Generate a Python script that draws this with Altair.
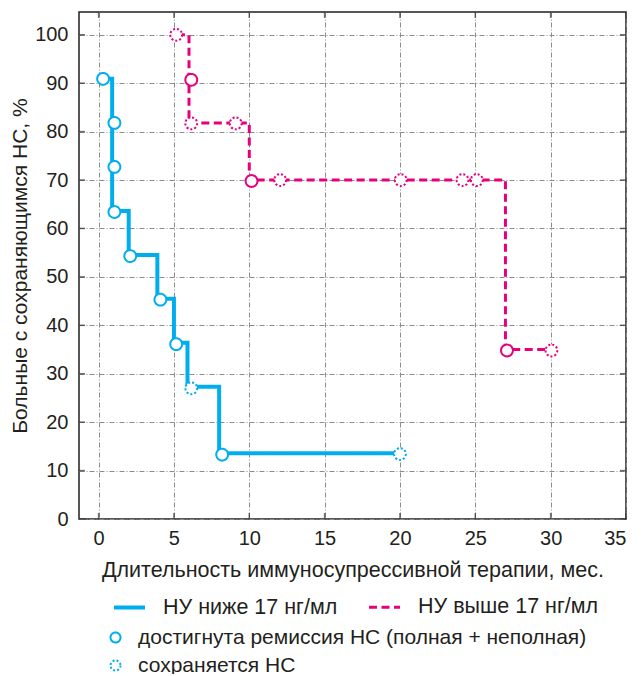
import altair as alt
import pandas as pd

# ---------------- data ----------------
SERIES = ["НУ ниже 17 нг/мл", "НУ выше 17 нг/мл"]
STATUS = ["достигнута ремиссия НС (полная + неполная)", "сохраняется НС"]
COLORS = ["#00AEEF", "#E6007E"]

# step-line vertices
BLUE_LINE_X = [0.3, 0.9, 0.9, 2.0, 2.0, 3.9, 3.9, 5.0, 5.0, 5.9, 5.9, 8.0, 8.0, 20.0]
BLUE_LINE_Y = [90.9, 90.9, 63.6, 63.6, 54.5, 54.5, 45.5, 45.5, 36.4, 36.4, 27.3, 27.3, 13.6, 13.6]
PINK_LINE_X = [5.2, 6.0, 6.0, 10.0, 10.0, 27.0, 27.0, 30.0]
PINK_LINE_Y = [100.0, 100.0, 81.8, 81.8, 70.0, 70.0, 35.0, 35.0]

# circles: remission reached
BLUE_REM_X = [0.3, 1.05, 1.05, 1.05, 2.1, 4.1, 5.15, 8.2]
BLUE_REM_Y = [90.9, 81.8, 72.7, 63.4, 54.3, 45.3, 36.1, 13.3]
PINK_REM_X = [6.15, 10.15, 27.1]
PINK_REM_Y = [90.7, 69.8, 34.8]
# circles: NS persists (censored)
BLUE_CEN_X = [6.15, 20.0]
BLUE_CEN_Y = [27.0, 13.4]
PINK_CEN_X = [5.15, 6.15, 9.1, 12.05, 20.05, 24.15, 25.1, 30.05]
PINK_CEN_Y = [100.0, 81.7, 81.7, 70.0, 70.0, 70.0, 70.0, 34.8]

X_TICKS = [0, 5, 10, 15, 20, 25, 30, 35]
Y_TICKS = [0, 10, 20, 30, 40, 50, 60, 70, 80, 90, 100]

X_TITLE = "Длительность иммуносупрессивной терапии, мес."
Y_TITLE = "Больные с сохраняющимся НС, %"

# ---------------- tables ----------------
line_df = pd.concat([
    pd.DataFrame({"x": BLUE_LINE_X, "y": BLUE_LINE_Y, "series": SERIES[0], "i": range(len(BLUE_LINE_X))}),
    pd.DataFrame({"x": PINK_LINE_X, "y": PINK_LINE_Y, "series": SERIES[1], "i": range(len(PINK_LINE_X))}),
])
blue_pts = pd.concat([
    pd.DataFrame({"x": BLUE_REM_X, "y": BLUE_REM_Y, "status": STATUS[0]}),
    pd.DataFrame({"x": BLUE_CEN_X, "y": BLUE_CEN_Y, "status": STATUS[1]}),
])
pink_pts = pd.concat([
    pd.DataFrame({"x": PINK_REM_X, "y": PINK_REM_Y, "status": STATUS[0]}),
    pd.DataFrame({"x": PINK_CEN_X, "y": PINK_CEN_Y, "status": STATUS[1]}),
])
xt_df = pd.DataFrame({"x": X_TICKS})
yt_df = pd.DataFrame({"y": Y_TICKS})

W, H = 547, 507
FONT = "Liberation Sans"
TXT = "#231f20"

xs = alt.Scale(domain=[-1.3, 35], nice=False, zero=False)
ys = alt.Scale(domain=[0, 104.7], nice=False, zero=False)

x_axis = alt.Axis(values=X_TICKS, title=X_TITLE, labelPadding=9, titlePadding=11, titleFontSize=21.5)
y_axis = alt.Axis(values=Y_TICKS, title=Y_TITLE, labelPadding=11, titlePadding=4, titleFontSize=21)

line_legend = alt.Legend(
    title=None, orient="none", legendX=33, legendY=578, columns=2, direction="horizontal",
    symbolType="stroke", symbolSize=961, symbolStrokeWidth=3.5,
    labelFont=FONT, labelFontSize=21.5, labelColor=TXT, labelOffset=16, labelLimit=0,
    columnPadding=25, padding=0,
)

lines = alt.Chart(line_df).mark_line(strokeCap="butt", strokeJoin="miter").encode(
    x=alt.X("x:Q", scale=xs, axis=x_axis),
    y=alt.Y("y:Q", scale=ys, axis=y_axis),
    order="i:Q",
    color=alt.Color("series:N", scale=alt.Scale(domain=SERIES, range=COLORS), legend=line_legend),
    strokeDash=alt.StrokeDash("series:N", scale=alt.Scale(domain=SERIES, range=[[1, 0], [8, 4.5]]), legend=line_legend),
    strokeWidth=alt.StrokeWidth("series:N", scale=alt.Scale(domain=SERIES, range=[4, 3]), legend=None),
)

status_dash = alt.Scale(domain=STATUS, range=[[1, 0], [2, 2]])

pts_blue = alt.Chart(blue_pts).mark_point(
    shape="circle", filled=False, fill="white", size=140, opacity=1, color=COLORS[0], strokeWidth=2
).encode(
    x=alt.X("x:Q", scale=xs, axis=x_axis),
    y=alt.Y("y:Q", scale=ys, axis=y_axis),
    strokeDash=alt.StrokeDash(
        "status:N", scale=status_dash,
        legend=alt.Legend(
            title=None, orient="none", legendX=26, legendY=615, direction="vertical", columns=1,
            symbolType="circle", symbolSize=100, symbolStrokeWidth=2,
            labelFont=FONT, labelFontSize=21, labelColor=TXT, labelOffset=12, labelLimit=0,
            rowPadding=6, padding=0,
        ),
    ),
)

pts_pink = alt.Chart(pink_pts).mark_point(
    shape="circle", filled=False, fill="white", size=140, opacity=1, color=COLORS[1], strokeWidth=2
).encode(
    x=alt.X("x:Q", scale=xs, axis=x_axis),
    y=alt.Y("y:Q", scale=ys, axis=y_axis),
    strokeDash=alt.StrokeDash("status:N", scale=status_dash, legend=None),
)

TK = "#333333"
left_t = alt.Chart(yt_df).mark_tick(orient="horizontal", size=6, thickness=1.5, color=TK).encode(
    y=alt.Y("y:Q", scale=ys, axis=y_axis), x=alt.value(3))
right_t = alt.Chart(yt_df).mark_tick(orient="horizontal", size=6, thickness=1.5, color=TK).encode(
    y=alt.Y("y:Q", scale=ys, axis=y_axis), x=alt.value(W - 3))
bot_t = alt.Chart(xt_df).mark_tick(orient="vertical", size=6, thickness=1.5, color=TK).encode(
    x=alt.X("x:Q", scale=xs, axis=x_axis), y=alt.value(H - 3))
top_t = alt.Chart(xt_df).mark_tick(orient="vertical", size=6, thickness=1.5, color=TK).encode(
    x=alt.X("x:Q", scale=xs, axis=x_axis), y=alt.value(3))

chart = alt.layer(lines, left_t, right_t, bot_t, top_t, pts_pink, pts_blue).resolve_scale(
    color="independent", strokeDash="independent", strokeWidth="independent"
).properties(
    width=W, height=H,
    autosize=alt.AutoSizeParams(type="none"),
    padding={"left": 71, "top": 4, "right": 7, "bottom": 155},
).configure_view(
    stroke="#231f20", strokeWidth=1.5
).configure_axis(
    grid=True, gridColor="#8c8c8c", gridDash=[5, 2, 1, 2], gridWidth=1,
    domain=False, ticks=False,
    labelFont=FONT, labelFontSize=20, labelColor=TXT,
    titleFont=FONT, titleFontWeight="normal", titleColor=TXT,
)

chart.save("out.html", embed_options={"renderer": "svg", "actions": False})
